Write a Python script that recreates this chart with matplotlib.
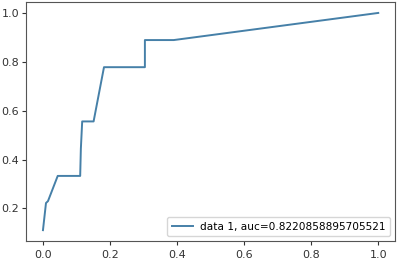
import matplotlib
matplotlib.use('Agg')
from matplotlib import pyplot as plt

# ROC curve points
fpr = [0.0, 0.009, 0.015, 0.044, 0.111, 0.113, 0.117, 0.151, 0.182, 0.304, 0.304, 0.39, 1.0]
tpr = [0.111, 0.222, 0.23, 0.333, 0.333, 0.444, 0.556, 0.556, 0.778, 0.778, 0.889, 0.889, 1.0]
auc = 0.8220858895705521

fig = plt.figure(figsize=(3.97, 2.60), dpi=100)
ax = fig.add_axes([0.066, 0.073, 0.929, 0.919])
ax.plot(fpr, tpr, color='#4680a8', lw=1.4, label='data 1, auc=' + str(auc))
ax.legend(loc=4, fontsize=7.6, handlelength=2.0, borderpad=0.4, handletextpad=0.7)

ax.tick_params(labelsize=8, colors='#333333', length=3)
ax.tick_params(axis='y', pad=2)
for s in ax.spines.values():
    s.set_color('#555555')

fig.savefig('out.png', dpi=100)
